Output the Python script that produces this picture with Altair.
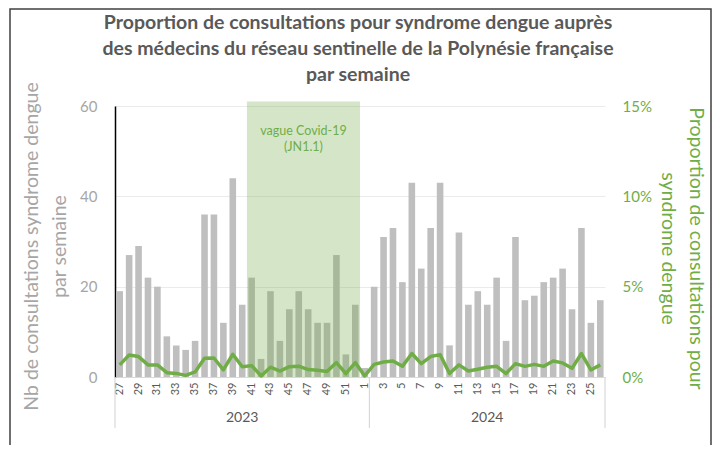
import altair as alt
import pandas as pd

# ---- data ----
semaines = [27, 28, 29, 30, 31, 32, 33, 34, 35, 36, 37, 38, 39, 40, 41, 42, 43, 44, 45, 46, 47, 48, 49, 50, 51, 52,
            1, 2, 3, 4, 5, 6, 7, 8, 9, 10, 11, 12, 13, 14, 15, 16, 17, 18, 19, 20, 21, 22, 23, 24, 25, 26]
annees = ["2023"] * 27 + ["2024"] * 25
nb_consultations = [19, 27, 29, 22, 20, 9, 7, 6, 8, 36, 36, 12, 44, 16, 22, 4, 19, 8, 15, 19, 15, 12, 12, 27, 5, 16,
                    2, 20, 31, 33, 21, 43, 24, 33, 43, 7, 32, 16, 19, 16, 22, 8, 31, 17, 18, 21, 22, 24, 15, 33, 12, 17]
proportion_pct = [0.67, 1.22, 1.13, 0.67, 0.67, 0.24, 0.20, 0.09, 0.28, 1.04, 1.05, 0.39, 1.26, 0.57, 0.63, 0.06,
                  0.54, 0.33, 0.57, 0.60, 0.41, 0.37, 0.30, 0.80, 0.19, 0.80,
                  0.06, 0.70, 0.83, 0.89, 0.59, 1.30, 0.74, 1.13, 1.24, 0.19, 0.67, 0.33, 0.43, 0.54, 0.59, 0.19,
                  0.74, 0.59, 0.70, 0.59, 0.89, 0.78, 0.48, 1.30, 0.39, 0.67]
vague_debut, vague_fin = 41, 52          # Covid-19 wave (weeks of 2023)
vague_texte = "vague Covid-19\n(JN1.1)"

titre = ("Proportion de consultations pour syndrome dengue auprès\n"
         "des médecins du réseau sentinelle de la Polynésie française\n"
         "par semaine")

GREEN = "#70AD47"
GREY_BAR = "#BFBFBF"
TXT = "#595959"
FONT = "Lato"

W, H = 490, 271
labels = [str(s) for s in semaines]
df = pd.DataFrame({"semaine": labels, "nb": nb_consultations, "prop": proportion_pct, "annee": annees})
n = len(labels)

band = alt.Scale(paddingInner=0.3, paddingOuter=0.15)
xq = alt.Scale(domain=[0, n], nice=False, zero=False)

bars = alt.Chart(df).mark_bar(color=GREY_BAR).encode(
    x=alt.X("semaine:N", sort=labels, scale=band,
            axis=alt.Axis(title=None, labelAngle=270, ticks=False, grid=False,
                          labelExpr="toNumber(datum.value) % 2 == 1 ? datum.label : ''",
                          labelColor=TXT, labelFontSize=11, labelPadding=5,
                          domainColor="#D9D9D9", labelFont=FONT)),
    y=alt.Y("nb:Q", scale=alt.Scale(domain=[0, 60], nice=False),
            axis=alt.Axis(values=[0, 20, 40, 60], title=["Nb de consultations syndrome dengue", "par semaine"],
                          titleColor="#A6A6A6", titleFontSize=19.5, titleFontWeight="normal", titleFont=FONT,
                          titleLineHeight=28, titlePadding=10, titleY=140,
                          labelColor="#A6A6A6", labelFontSize=15, labelPadding=18, labelFont=FONT,
                          ticks=False, domainColor="black", domainWidth=1.5,
                          gridColor="#EBEBEB", gridWidth=1.2)),
)

# Covid wave shading (cell boundaries of the weeks)
i0 = labels.index(str(vague_debut))
i1 = labels.index(str(vague_fin)) + 1
shade_df = pd.DataFrame({"x0": [i0], "x1": [i1], "y0": [0], "y1": [61], "xm": [(i0 + i1) / 2],
                         "ty": [54.5], "txt": [vague_texte]})
shade = alt.Chart(shade_df).mark_rect(color=GREEN, opacity=0.3).encode(
    x=alt.X("x0:Q", scale=xq, axis=None), x2="x1:Q",
    y=alt.Y("y0:Q", scale=alt.Scale(domain=[0, 60], nice=False), axis=None), y2="y1:Q",
)
shade_txt = alt.Chart(shade_df).mark_text(color=GREEN, fontSize=12.5, font=FONT, lineBreak="\n",
                                          lineHeight=16, baseline="middle").encode(
    x=alt.X("xm:Q", scale=xq, axis=None),
    y=alt.Y("ty:Q", scale=alt.Scale(domain=[0, 60], nice=False), axis=None),
    text="txt:N",
)

line = alt.Chart(df).mark_line(color=GREEN, strokeWidth=3.5, strokeJoin="round").encode(
    x=alt.X("semaine:N", sort=labels, scale=band, axis=None),
    y=alt.Y("prop:Q", scale=alt.Scale(domain=[0, 15], nice=False),
            axis=alt.Axis(orient="right", values=[0, 5, 10, 15], labelExpr="datum.value + '%'",
                          title=["Proportion de consultations pour", "syndrome dengue"],
                          titleColor=GREEN, titleFontSize=19.5, titleFontWeight="normal", titleFont=FONT,
                          titleLineHeight=28, titlePadding=6, titleAngle=90, titleY=142,
                          labelColor=GREEN, labelFontSize=15, labelPadding=17, labelFont=FONT,
                          ticks=False, domain=False, grid=False)),
)

# year groups under the x axis
grp = df.reset_index().groupby("annee")["index"].agg(["min", "max"]).reset_index()
grp["start"] = grp["min"]
grp["end"] = grp["max"] + 1
grp["mid"] = (grp["start"] + grp["end"]) / 2
bounds = pd.DataFrame({"b": sorted(set(grp["start"]).union(grp["end"]))})

seps = alt.Chart(bounds).mark_rule(color="#D9D9D9", strokeWidth=1.2).encode(
    x=alt.X("b:Q", scale=xq, axis=None), y=alt.value(H), y2=alt.value(H + 51),
)
years = alt.Chart(grp).mark_text(color=TXT, fontSize=14, font=FONT, baseline="middle").encode(
    x=alt.X("mid:Q", scale=xq, axis=None), y=alt.value(H + 41), text="annee:N",
)

title_df = pd.DataFrame({"t": [titre]})
title_txt = alt.Chart(title_df).mark_text(color=TXT, fontSize=19.5, fontWeight="bold", font=FONT,
                                          lineBreak="\n", lineHeight=26, baseline="alphabetic",
                                          align="center").encode(
    x=alt.value(W / 2 - 2), y=alt.value(-77), text="t:N",
)

frame = alt.Chart(pd.DataFrame({"k": [0]})).mark_rect(filled=False, stroke="#404040", strokeWidth=1.5).encode(
    x=alt.value(-105), x2=alt.value(596), y=alt.value(-97), y2=alt.value(H + 100),
)

chart = alt.layer(bars, shade, line, shade_txt, seps, years, title_txt, frame).resolve_scale(
    x="independent", y="independent"
).properties(
    width=W, height=H,
    autosize=alt.AutoSizeParams(type="none"),
    padding={"left": 107, "top": 98, "right": 107, "bottom": 68},
).configure_view(stroke=None)

chart.save("out.html", embed_options={"renderer": "svg", "actions": False})
